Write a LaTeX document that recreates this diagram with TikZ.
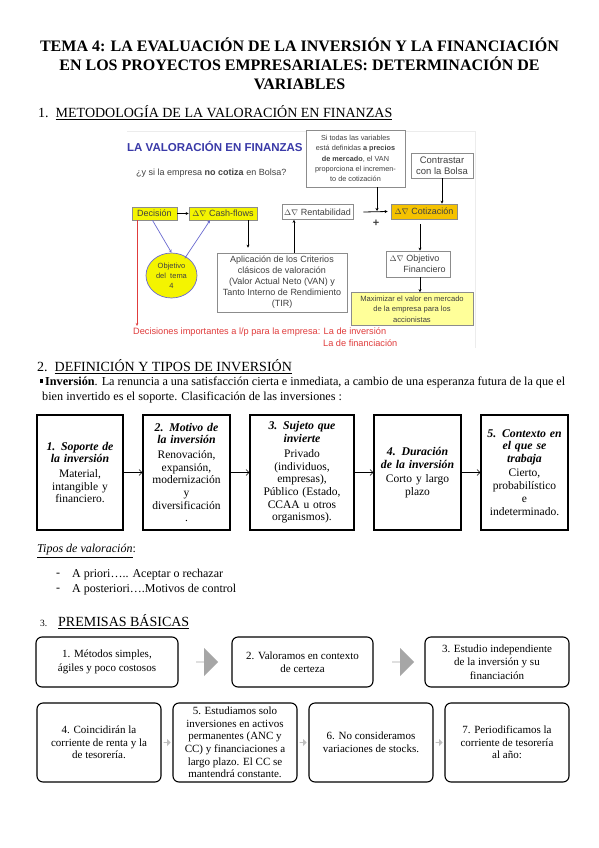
\documentclass[tikz,border=0pt]{standalone}
\usepackage{fontspec}
\setmainfont{Liberation Serif}
\setsansfont{Liberation Sans}
\usetikzlibrary{arrows.meta,shapes.geometric,shapes.arrows}
\definecolor{vblue}{HTML}{3A3AA8}
\definecolor{ylw}{HTML}{F4F400}
\definecolor{orng}{HTML}{F5C200}
\definecolor{lylw}{HTML}{FFFF99}
\definecolor{rred}{HTML}{E03C3C}
\definecolor{bline}{HTML}{6A6AD0}
\definecolor{gbord}{HTML}{8C8C8C}
\definecolor{gtxt}{HTML}{404040}
\begin{document}
\begin{tikzpicture}[x=1pt,y=-1pt,
  dbox/.style={draw=gbord, line width=0.7pt, font=\sffamily\fontsize{9}{11}\selectfont, inner sep=1pt, align=center, text=gtxt},
  darr/.style={-{Stealth[length=3pt,width=3pt]}, line width=0.8pt},
  secbox/.style={draw, line width=1.2pt, minimum height=115, inner xsep=2pt, align=center, font=\fontsize{11.5}{12.7}\selectfont},
  sarr/.style={-{Straight Barb[length=3pt,width=6pt]}, line width=0.5pt},
  pbox/.style={draw, line width=1.1pt, rounded corners=6pt, align=center, font=\fontsize{11}{13.5}\selectfont, inner sep=2pt},
  bigarr/.style={single arrow, fill=gray!70, draw=none, minimum height=22pt, minimum width=28pt, single arrow head extend=6pt, inner sep=0pt},
  smarr/.style={single arrow, fill=gray!50, draw=none, minimum height=7pt, minimum width=7pt, single arrow head extend=1.8pt, inner sep=0pt}
]
\useasboundingbox (0,0) rectangle (599,848);
\fill[white] (0,0) rectangle (599,848);

% Title
\node[font=\bfseries\fontsize{16}{19}\selectfont, align=center] (title) at (299.5,64)
  {TEMA 4: LA EVALUACIÓN DE LA INVERSIÓN Y LA FINANCIACIÓN\\EN LOS PROYECTOS EMPRESARIALES: DETERMINACIÓN DE\\VARIABLES};

\node[anchor=west, font=\fontsize{14}{16}\selectfont, inner sep=0pt] (s1) at (38,113) {1.\ \ \underline{METODOLOGÍA DE LA VALORACIÓN EN FINANZAS}};

% ---------- Diagram image ----------
\draw[gray!15, line width=0.6pt] (127,131) -- (475,131) -- (475,348);
\node[anchor=west, font=\sffamily\bfseries\fontsize{11.5}{13}\selectfont, text=vblue, inner sep=0pt] (vtit) at (127,146) {LA VALORACIÓN EN FINANZAS};
\node[anchor=west, font=\sffamily\fontsize{9}{11}\selectfont, text=gtxt, inner sep=0pt] (q) at (136,173) {¿y si la empresa \textbf{no cotiza} en Bolsa?};

\node[dbox, fill=ylw, minimum width=45, minimum height=13] (dec) at (154.5,213.5) {Decisión};
\node[dbox, fill=ylw, minimum width=68, minimum height=13] (cash) at (223,213.5) {{\rmfamily\footnotesize$\Delta\nabla$} Cash-flows};
\node[dbox, fill=white, minimum width=71, minimum height=15] (rent) at (317.5,212) {{\rmfamily\footnotesize$\Delta\nabla$} Rentabilidad};
\node[dbox, fill=orng, minimum width=66, minimum height=15] (cot) at (424,211.5) {{\rmfamily\footnotesize$\Delta\nabla$} Cotización};
\node[dbox, fill=white, minimum width=99, minimum height=57, font=\sffamily\fontsize{7.3}{10.3}\selectfont] (sit) at (355.5,158.5)
  {Si todas las variables\\está definidas \textbf{a precios}\\\textbf{de mercado}, el VAN\\proporciona el incremen-\\to de cotización};
\node[dbox, fill=white, minimum width=62, minimum height=25, font=\sffamily\fontsize{9.5}{11.5}\selectfont] (con) at (442,165.5) {Contrastar\\con la Bolsa};
\node[dbox, fill=white, minimum width=130, minimum height=59, font=\sffamily\fontsize{9}{11}\selectfont] (apl) at (282,282.5)
  {Aplicación de los Criterios\\clásicos de valoración\\(Valor Actual Neto (VAN) y\\Tanto Interno de Rendimiento\\(TIR)};
\node[draw=bline, line width=0.7pt, fill=ylw, ellipse, minimum width=51, minimum height=45, inner sep=0pt, align=center, font=\sffamily\fontsize{7.5}{10}\selectfont, text=gtxt] (obj) at (171.5,275.5) {Objetivo\\del\ \ tema\\4};
\node[dbox, fill=white, minimum width=64, minimum height=26, font=\sffamily\fontsize{9}{11.5}\selectfont] (ofin) at (418.5,264) {{\rmfamily\footnotesize$\Delta\nabla$} Objetivo\hspace*{8pt}\\\hspace*{12pt}Financiero};
\node[dbox, fill=lylw, minimum width=122, minimum height=33, font=\sffamily\fontsize{7.6}{10.5}\selectfont] (max) at (412,309) {Maximizar el valor en mercado\\de la empresa para los\\accionistas};

\coordinate (xa) at (248,0);
\coordinate (xb) at (294,0);
\coordinate (xc) at (377,0);
\coordinate (xd) at (442,0);
\coordinate (xe) at (420,0);
\coordinate (xf) at (137,0);
\coordinate (rp) at (137,326);
\coordinate (pl) at (377,213);

\draw[darr, line width=0.6pt] (dec) -- (cash);
\draw[darr] (cash.south -| xa) -- ([yshift=5pt]apl.north -| xa);
\draw[darr] (apl.north -| xb) -- (rent.south -| xb);
\draw[darr] ([xshift=10pt]rent.east) -- ([xshift=-3pt]cot.west);
\draw[darr] (sit.south -| xc) -- ([yshift=2pt]pl);
\draw[darr] (con.south -| xd) -- (cot.north -| xd);
\draw[darr] ([yshift=-5pt]cot.south -| xe) -- (ofin.north -| xe);
\draw[darr] (ofin.south -| xe) -- (max.north -| xe);
\node[font=\sffamily\bfseries\fontsize{11}{11}\selectfont, text=gtxt] (plus) at (376,223.5) {+};
\draw[bline, line width=0.7pt, -{Stealth[length=3pt,width=3pt]}] ([xshift=-2pt]dec.south) -- (obj.north);
\draw[bline, line width=0.7pt, -{Stealth[length=3pt,width=3pt]}] (obj.north east) ++(-5pt,1pt) -- ([xshift=-13pt]cash.south);
\draw[rred, line width=0.6pt, -{Stealth[length=3pt,width=2.5pt]}] (dec.south -| xf) -- (rp);
\node[anchor=west, font=\sffamily\fontsize{9.2}{11}\selectfont, text=rred, inner sep=0pt] (rt1) at (133,332) {Decisiones importantes a l/p para la empresa: La de inversión};
\node[anchor=west, font=\sffamily\fontsize{9.2}{11}\selectfont, text=rred, inner sep=0pt] (rt2) at (323,343) {La de financiación};

% ---------- Section 2 ----------
\node[anchor=west, font=\fontsize{14}{16}\selectfont, inner sep=0pt] (s2) at (37,367) {2.\ \ \underline{DEFINICIÓN Y TIPOS DE INVERSIÓN}};
\node[fill=black, minimum size=3.2pt, inner sep=0pt] (bul) at (41.5,381) {};
\node[anchor=west, font=\fontsize{12.2}{15}\selectfont, inner sep=0pt] (inv1) at (45,382)
  {\makebox[520pt][s]{\textbf{Inversión}. La renuncia a una satisfacción cierta e inmediata, a cambio de una esperanza futura de la que el}};
\node[anchor=west, font=\fontsize{12.2}{15}\selectfont, inner sep=0pt] (inv2) at (42,397)
  {bien invertido es el soporte. Clasificación de las inversiones :};

\node[secbox, text width=82] (b1) at (80,472.5)
  {{\bfseries\itshape\fontsize{11.8}{12}\selectfont 1. Soporte de\\la inversión}\\[2pt]Material,\\intangible y\\financiero.};
\node[secbox, text width=83] (b2) at (186.5,472.5)
  {{\bfseries\itshape\fontsize{11.8}{12}\selectfont 2. Motivo de\\la inversión}\\[2pt]Renovación,\\expansión,\\modernización\\y\\diversificación\\.};
\node[secbox, text width=100] (b3) at (302,472.5)
  {{\bfseries\itshape\fontsize{11.8}{12}\selectfont 3. Sujeto que\\invierte}\\[2pt]Privado\\(individuos,\\empresas),\\Público (Estado,\\CCAA u otros\\organismos).};
\node[secbox, text width=83] (b4) at (417.5,472.5)
  {{\bfseries\itshape\fontsize{11.8}{12}\selectfont 4. Duración\\de la inversión}\\[2pt]Corto y largo\\plazo};
\node[secbox, text width=83] (b5) at (524.5,472.5)
  {{\bfseries\itshape\fontsize{11.8}{12}\selectfont 5. Contexto en\\el que se\\trabaja}\\[2pt]Cierto,\\probabilístico\\e\\indeterminado.};
\draw[sarr] (b1) -- (b2);
\draw[sarr] (b2) -- (b3);
\draw[sarr] (b3) -- (b4);
\draw[sarr] (b4) -- (b5);

\node[anchor=west, font=\itshape\fontsize{12}{14}\selectfont, inner sep=0pt] (tip) at (37,551) {\underline{Tipos de valoración}\upshape:};
\node[anchor=west, font=\fontsize{12}{14}\selectfont, inner sep=0pt] (d1) at (56,575) {-};
\node[anchor=west, font=\fontsize{12}{14}\selectfont, inner sep=0pt] (t1) at (72,575) {A priori….. Aceptar o rechazar};
\node[anchor=west, font=\fontsize{12}{14}\selectfont, inner sep=0pt] (d2) at (56,590) {-};
\node[anchor=west, font=\fontsize{12}{14}\selectfont, inner sep=0pt] (t2) at (72,590) {A posteriori….Motivos de control};

% ---------- Section 3 ----------
\node[anchor=west, font=\fontsize{9.5}{11}\selectfont, inner sep=0pt] (s3n) at (40,623) {3.};
\node[anchor=west, font=\fontsize{14}{16}\selectfont, inner sep=0pt] (s3) at (58,622) {\underline{PREMISAS BÁSICAS}};

\node[pbox, minimum width=142, minimum height=50] (p1) at (107,662) {1. Métodos simples,\\ágiles y poco costosos};
\node[pbox, minimum width=141, minimum height=50] (p2) at (302.5,662) {2. Valoramos en contexto\\de certeza};
\node[pbox, minimum width=144, minimum height=50] (p3) at (497,662) {3. Estudio independiente\\de la inversión y su\\financiación};
\node[bigarr] (a1) at (207,662) {};
\node[bigarr] (a2) at (403,662) {};

\node[pbox, minimum width=124, minimum height=79, font=\fontsize{11}{12.6}\selectfont] (p4) at (99,742.5) {4. Coincidirán la\\corriente de renta y la\\de tesorería.};
\node[pbox, minimum width=124, minimum height=79, font=\fontsize{11}{12.6}\selectfont] (p5) at (235,742.5) {5. Estudiamos solo\\inversiones en activos\\permanentes (ANC y\\CC) y financiaciones a\\largo plazo. El CC se\\mantendrá constante.};
\node[pbox, minimum width=124, minimum height=79, font=\fontsize{11}{12.6}\selectfont] (p6) at (371,742.5) {6. No consideramos\\variaciones de stocks.};
\node[pbox, minimum width=124, minimum height=79, font=\fontsize{11}{12.6}\selectfont] (p7) at (507,742.5) {7. Periodificamos la\\corriente de tesorería\\al año:};
\node[smarr] (a3) at (167,742.5) {};
\node[smarr] (a4) at (303,742.5) {};
\node[smarr] (a5) at (439,742.5) {};
\end{tikzpicture}
\end{document}
